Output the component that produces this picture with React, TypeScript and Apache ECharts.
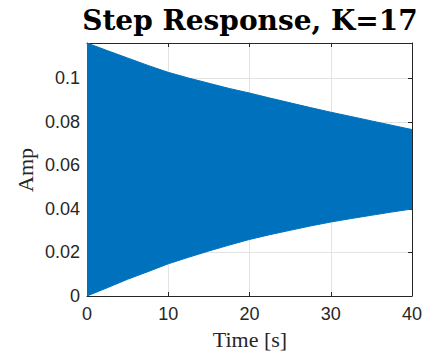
import React, { useEffect, useRef } from "react";
import * as echarts from "echarts";

// Envelope of the oscillating step response
const timeS = [0, 2.5, 5, 7.5, 10, 12.5, 15, 17.5, 20, 22.5, 25, 27.5, 30, 32.5, 35, 37.5, 40];
const upperAmp = [0.1163, 0.1128, 0.1094, 0.106, 0.1028, 0.1002, 0.0978, 0.0954, 0.0933, 0.091, 0.0888, 0.0866, 0.0845, 0.0825, 0.0805, 0.0785, 0.0765];
const lowerAmp = [0, 0.0038, 0.0077, 0.0112, 0.0148, 0.0178, 0.0207, 0.0234, 0.026, 0.0282, 0.0302, 0.0322, 0.034, 0.0356, 0.0371, 0.0386, 0.040];
const xTicks = [0, 10, 20, 30, 40];
const yTicks = [0, 0.02, 0.04, 0.06, 0.08, 0.1];

const TEXT = "#262626";
const BLUE = "#0072BD";

export default function App() {
  const ref = useRef<HTMLDivElement>(null);
  useEffect(() => {
    if (!ref.current) return;
    const chart = echarts.init(ref.current, undefined, { renderer: "svg" });
    const envData = timeS.map((t, i) => [t, lowerAmp[i], upperAmp[i]]);
    const yLabel = (v: number) => (yTicks.some((y) => Math.abs(y - v) < 1e-9) ? (v === 0 ? "0" : String(+v.toFixed(2))) : "");
    const xLabel = (v: number) => (xTicks.includes(v) ? String(v) : "");
    const axisCommon = {
      axisLine: { show: true, onZero: false, lineStyle: { color: TEXT, width: 1 } },
      axisTick: { show: true, inside: true, length: 4, lineStyle: { color: TEXT } },
    };
    chart.setOption({
      animation: false,
      grid: { left: 87, right: 17, top: 43, bottom: 57 },
      xAxis: [
        {
          type: "value", min: 0, max: 40, interval: 10, position: "bottom",
          ...axisCommon,
          axisLabel: { color: TEXT, fontSize: 18, fontFamily: "Liberation Sans", margin: 9, formatter: xLabel },
          splitLine: { show: true, lineStyle: { color: "#e3e3e3", width: 1 } },
        },
        {
          type: "value", min: 0, max: 40, interval: 10, position: "top",
          ...axisCommon,
          axisLabel: { show: false },
          splitLine: { show: false },
        },
      ],
      yAxis: [
        {
          type: "value", min: 0, max: 0.1163, interval: 0.02, position: "left",
          ...axisCommon,
          axisLabel: { color: TEXT, fontSize: 18, fontFamily: "Liberation Sans", margin: 7, formatter: yLabel, showMaxLabel: false },
          splitLine: { show: true, lineStyle: { color: "#e3e3e3", width: 1 } },
        },
        {
          type: "value", min: 0, max: 0.1163, interval: 0.02, position: "right",
          ...axisCommon,
          axisLabel: { show: false },
          splitLine: { show: false },
        },
      ],
      graphic: [
        {
          type: "text", x: 250, y: 20,
          style: { text: "Step Response, K=17", font: "bold 28px 'DejaVu Serif'", fill: "#000", align: "center", verticalAlign: "middle" },
        },
        {
          type: "text", x: 250, y: 339,
          style: { text: "Time [s]", font: "22px 'Liberation Serif'", fill: TEXT, align: "center", verticalAlign: "middle" },
        },
        {
          type: "text", x: 25, y: 170, rotation: Math.PI / 2,
          style: { text: "Amp", font: "22px 'Liberation Serif'", fill: TEXT, align: "center", verticalAlign: "middle" },
        },
      ],
      series: [
        {
          type: "custom",
          xAxisIndex: 0, yAxisIndex: 0,
          data: envData,
          encode: { x: 0, y: [1, 2] },
          clip: true,
          renderItem: (params: any, api: any) => {
            if (params.dataIndex !== 0) return null;
            const top = envData.map((d) => api.coord([d[0], d[2]]));
            const bottom = envData.map((d) => api.coord([d[0], d[1]])).reverse();
            return {
              type: "polygon",
              shape: { points: top.concat(bottom) },
              style: { fill: BLUE, stroke: BLUE, lineWidth: 1 },
            };
          },
        },
      ],
    });
    return () => chart.dispose();
  }, []);
  return <div ref={ref} style={{ width: 429, height: 353, position: "absolute", left: 0, top: 0 }} />;
}
